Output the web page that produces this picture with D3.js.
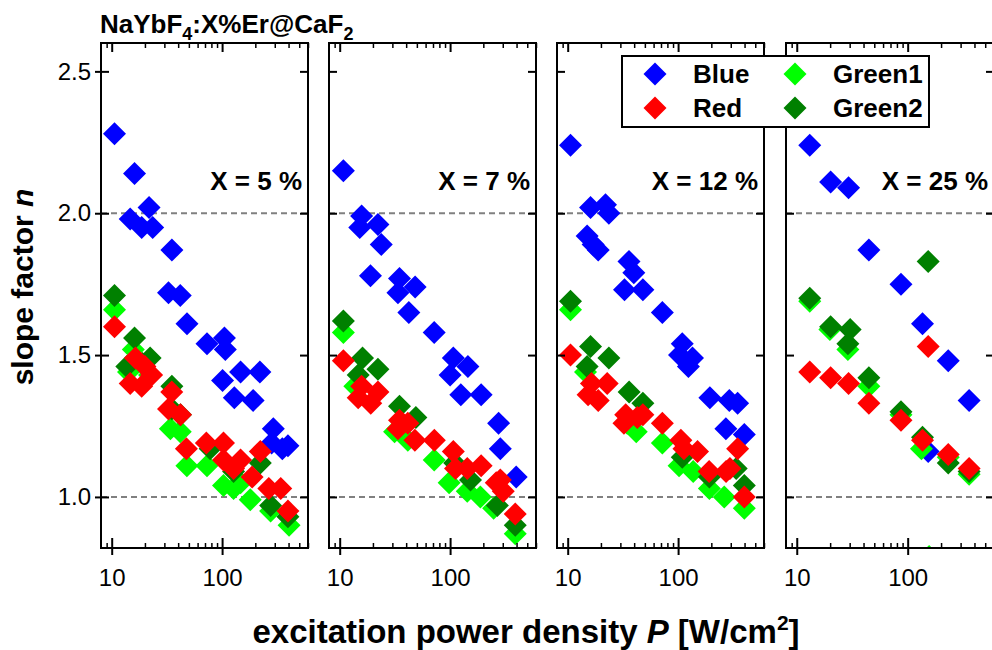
<!DOCTYPE html>
<html><head><meta charset="utf-8">
<script src="https://cdn.jsdelivr.net/npm/d3@7"></script>
<style>
body{margin:0;background:#fff;}
text{font-family:"Liberation Sans",Arial,sans-serif;fill:#000;}
</style>
</head><body>
<svg id="c" width="992" height="650"></svg>
<script>
// ---------- data ----------
const panelLabels = ["X = 5 %", "X = 7 %", "X = 12 %", "X = 25 %"];
const seriesNames = ["Blue", "Red", "Green1", "Green2"];
const seriesColors = {Blue: "#0000ff", Red: "#ff0000", Green1: "#00ff00", Green2: "#008000"};
const drawOrder = ["Blue", "Green1", "Green2", "Red"];
const xMajorTicks = [10, 100];
const xMinorTicks = [9, 20, 30, 40, 50, 60, 70, 80, 90, 200, 300, 400, 500, 600];
const yTicks = [1.0, 1.5, 2.0, 2.5];
const yTickLabels = ["1.0", "1.5", "2.0", "2.5"];
const refLines = [1.0, 2.0];

// X = 5 %  ([P, n])
const blue5 = [[10.6,2.28],[16.1,2.14],[14.7,1.98],[18.7,1.95],[21.8,2.02],[23.5,1.95],[35.1,1.87],[32.7,1.72],[41.8,1.71],[48.1,1.61],[73,1.54],[105,1.56],[107,1.52],[101,1.41],[147,1.44],[220,1.44],[129,1.35],[191,1.34],[291,1.24],[281,1.19],[351,1.17],[395,1.18]];
const green1_5 = [[10.6,1.66],[15.7,1.52],[14.2,1.44],[22,1.43],[34,1.24],[41.8,1.23],[48,1.11],[73,1.11],[103,1.04],[127,1.03],[147,1.05],[180,0.99],[275,0.95],[404,0.90]];
const green2_5 = [[10.6,1.71],[16.1,1.56],[22.3,1.49],[13.7,1.46],[19,1.47],[35.1,1.39],[35.1,1.31],[42,1.29],[78,1.17],[127,1.09],[222,1.12],[275,0.97],[395,0.93]];
const red5 = [[10.6,1.60],[16.4,1.49],[14.7,1.40],[18.7,1.39],[23,1.43],[20,1.46],[35,1.37],[32.7,1.31],[42,1.29],[47.5,1.17],[72,1.19],[103,1.19],[103,1.13],[127,1.10],[147,1.13],[187,1.07],[222,1.16],[265,1.03],[340,1.03],[395,0.95]];

// X = 7 %
const blue7 = [[10.8,2.15],[15.8,1.99],[15.2,1.95],[22.2,1.96],[23.8,1.89],[19,1.78],[34.8,1.77],[33.7,1.72],[48.2,1.74],[42.3,1.65],[71.8,1.58],[107,1.49],[145,1.46],[100,1.43],[125,1.36],[191,1.36],[275,1.26],[285,1.17],[397,1.07]];
const green1_7 = [[10.8,1.58],[13.7,1.39],[31.4,1.23],[41.4,1.20],[71.8,1.13],[98,1.05],[143,1.02],[188,1.00],[248,0.96],[389,0.87]];
const green2_7 = [[10.8,1.62],[16.1,1.49],[14.7,1.43],[22.2,1.45],[34.8,1.32],[49,1.28],[110,1.12],[153,1.06],[268,0.97],[389,0.90]];
const red7 = [[10.8,1.48],[15.8,1.39],[19.1,1.33],[22.2,1.37],[14.7,1.35],[34.8,1.27],[33.7,1.24],[41.4,1.26],[48,1.20],[72,1.20],[107,1.16],[112,1.10],[143,1.10],[191,1.11],[262,1.05],[303,1.02],[285,1.06],[389,0.94]];

// X = 12 %
const blue12 = [[10.6,2.24],[16.1,2.02],[22,2.03],[23.6,2.00],[15,1.92],[17,1.89],[18.9,1.87],[35.9,1.83],[39.7,1.79],[32.7,1.73],[48,1.73],[72,1.65],[109,1.54],[135,1.49],[103,1.50],[124,1.46],[194,1.35],[291,1.34],[346,1.33],[271,1.24],[398,1.22]];
const green1_12 = [[10.6,1.66],[14.5,1.44],[34.6,1.26],[41.8,1.23],[72,1.19],[102,1.11],[137,1.09],[192,1.03],[262,1.00],[398,0.96]];
const green2_12 = [[10.6,1.69],[16.1,1.53],[15,1.46],[23.6,1.49],[36,1.37],[48,1.33],[109,1.14],[192,1.07],[336,1.10],[398,1.04]];
const red12 = [[10.6,1.50],[16.4,1.40],[15.3,1.36],[18.9,1.34],[22.8,1.40],[33.5,1.29],[32.3,1.26],[42.7,1.28],[48,1.29],[72,1.26],[106,1.20],[113,1.17],[150,1.16],[191,1.09],[272,1.09],[295,1.10],[346,1.17],[398,1.00]];

// X = 25 %
const blue25 = [[13.1,2.24],[20.2,2.11],[29.3,2.09],[44.7,1.87],[87,1.75],[136,1.61],[232,1.48],[358,1.34],[153,1.16]];
const green1_25 = [[13.1,1.69],[19.9,1.59],[28.9,1.52],[44.7,1.39],[87,1.29],[133,1.17],[232,1.14],[358,1.08],[156,0.79]];
const green2_25 = [[13.1,1.70],[20.2,1.60],[30.3,1.59],[28.9,1.54],[44.7,1.42],[87,1.30],[153,1.83],[136,1.21],[232,1.12],[358,1.09]];
const red25 = [[13.1,1.44],[20.2,1.42],[29.3,1.40],[44.7,1.33],[87,1.27],[153,1.53],[136,1.20],[232,1.15],[358,1.10]];

const panelData = [
  {Blue: blue5, Red: red5, Green1: green1_5, Green2: green2_5},
  {Blue: blue7, Red: red7, Green1: green1_7, Green2: green2_7},
  {Blue: blue12, Red: red12, Green1: green1_12, Green2: green2_12},
  {Blue: blue25, Red: red25, Green1: green1_25, Green2: green2_25}
];

// ---------- layout ----------
const svg = d3.select("#c");
const defs = svg.append("defs");
const panelLeft = [101, 329, 557, 786];
const panelW = [207, 207, 207, 208];
const plotTop = 43, plotBottom = 548;
const y = d3.scaleLinear().domain([0.82, 2.6]).range([plotBottom, plotTop]);
const hd = 11.5;
const diamond = `M0,${-hd}L${hd},0L0,${hd}L${-hd},0Z`;

panelLabels.forEach((lab, i) => {
  const x0 = panelLeft[i], x1 = x0 + panelW[i];
  const x = d3.scaleLog().domain([8, 600]).range([x0, x1]);
  const g = svg.append("g");
  defs.append("clipPath").attr("id", "clip" + i)
    .append("rect").attr("x", x0).attr("y", plotTop).attr("width", x1 - x0).attr("height", plotBottom - plotTop);

  refLines.forEach(v => {
    g.append("line").attr("x1", x0).attr("x2", x1).attr("y1", y(v)).attr("y2", y(v))
      .attr("stroke", "#808080").attr("stroke-width", 2).attr("stroke-dasharray", "6,4");
  });

  const pg = g.append("g").attr("clip-path", `url(#clip${i})`);
  drawOrder.forEach(s => {
    pg.selectAll(null).data(panelData[i][s]).enter().append("path")
      .attr("d", diamond)
      .attr("transform", d => `translate(${x(d[0])},${y(d[1])})`)
      .attr("fill", seriesColors[s]);
  });

  const bMaj = g.append("g").attr("transform", `translate(0,${plotBottom})`)
    .call(d3.axisBottom(x).tickValues(xMajorTicks).tickSize(7).tickPadding(14).tickFormat(d3.format("d")));
  bMaj.select(".domain").remove();
  bMaj.selectAll(".tick line").attr("y1", -10).attr("stroke", "#000").attr("stroke-width", 2);
  bMaj.selectAll(".tick text").attr("font-size", 24).attr("font-family", "Liberation Sans, Arial, sans-serif");
  const bMin = g.append("g").attr("transform", `translate(0,${plotBottom})`)
    .call(d3.axisBottom(x).tickValues(xMinorTicks).tickSize(-5).tickFormat(""));
  bMin.select(".domain").remove();
  bMin.selectAll(".tick line").attr("stroke", "#000").attr("stroke-width", 1.5);

  const tMaj = g.append("g").attr("transform", `translate(0,${plotTop})`)
    .call(d3.axisTop(x).tickValues(xMajorTicks).tickSize(-9).tickFormat(""));
  tMaj.select(".domain").remove();
  tMaj.selectAll(".tick line").attr("stroke", "#000").attr("stroke-width", 2);
  const tMin = g.append("g").attr("transform", `translate(0,${plotTop})`)
    .call(d3.axisTop(x).tickValues(xMinorTicks).tickSize(-5).tickFormat(""));
  tMin.select(".domain").remove();
  tMin.selectAll(".tick line").attr("stroke", "#000").attr("stroke-width", 1.5);

  const lAx = g.append("g").attr("transform", `translate(${x0},0)`)
    .call(d3.axisLeft(y).tickValues(yTicks).tickSize(i === 0 ? 6 : 0).tickPadding(4)
      .tickFormat((d, k) => i === 0 ? yTickLabels[k] : ""));
  lAx.select(".domain").remove();
  lAx.selectAll(".tick line").attr("x2", i === 0 ? -6 : 0).attr("x1", 8).attr("stroke", "#000").attr("stroke-width", 2);
  lAx.selectAll(".tick text").attr("font-size", 24).attr("font-family", "Liberation Sans, Arial, sans-serif");

  const rAx = g.append("g").attr("transform", `translate(${x1},0)`)
    .call(d3.axisRight(y).tickValues(yTicks).tickSize(-8).tickFormat(""));
  rAx.select(".domain").remove();
  rAx.selectAll(".tick line").attr("stroke", "#000").attr("stroke-width", 2);

  g.append("rect").attr("x", x0).attr("y", plotTop).attr("width", x1 - x0).attr("height", plotBottom - plotTop)
    .attr("fill", "none").attr("stroke", "#000").attr("stroke-width", 2);

  g.append("text").attr("x", x1 - 6).attr("y", 190).attr("text-anchor", "end")
    .attr("font-size", 26).attr("font-weight", "bold").text(lab);
});

// title
const title = svg.append("text").attr("x", 100).attr("y", 33).attr("font-size", 26).attr("font-weight", "bold");
title.append("tspan").text("NaYbF");
title.append("tspan").attr("font-size", 18).attr("dy", 7).text("4");
title.append("tspan").attr("dy", -7).text(":X%Er@CaF");
title.append("tspan").attr("font-size", 18).attr("dy", 7).text("2");

// axis titles
svg.append("text").attr("transform", "translate(33,287) rotate(-90)").attr("text-anchor", "middle")
  .attr("font-size", 30).attr("font-weight", "bold")
  .call(t => { t.append("tspan").text("slope factor "); t.append("tspan").attr("font-style", "italic").text("n"); });

const xt = svg.append("text").attr("x", 526).attr("y", 643).attr("text-anchor", "middle")
  .attr("font-size", 33).attr("font-weight", "bold");
xt.append("tspan").text("excitation power density ");
xt.append("tspan").attr("font-style", "italic").text("P");
xt.append("tspan").text(" [W/cm");
xt.append("tspan").attr("font-size", 21).attr("dy", -13).text("2");
xt.append("tspan").attr("dy", 13).text("]");

// legend
const lg = svg.append("g");
lg.append("rect").attr("x", 622).attr("y", 56).attr("width", 307).attr("height", 71)
  .attr("fill", "#fff").attr("stroke", "#000").attr("stroke-width", 2);
const legPos = {Blue: [655, 74, 693, 83], Red: [655, 108, 693, 117], Green1: [795, 74, 833, 83], Green2: [795, 108, 833, 117]};
seriesNames.forEach(s => {
  const p = legPos[s];
  lg.append("path").attr("d", diamond).attr("transform", `translate(${p[0]},${p[1]})`).attr("fill", seriesColors[s]);
  lg.append("text").attr("x", p[2]).attr("y", p[3]).attr("font-size", 26).attr("font-weight", "bold").text(s);
});
</script>
</body></html>
